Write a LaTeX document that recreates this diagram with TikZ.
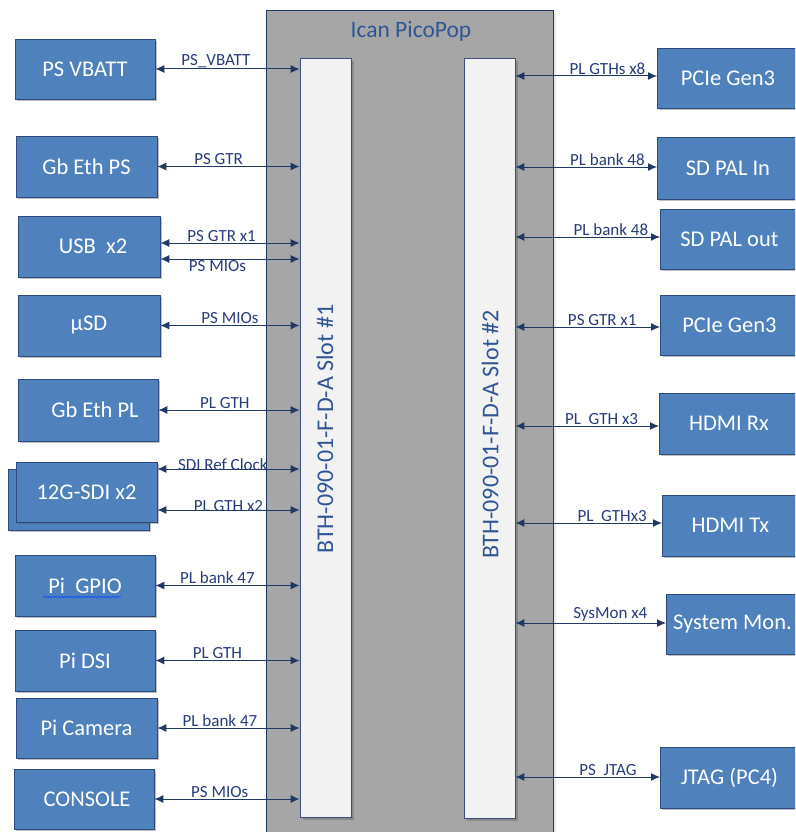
\documentclass[tikz,border=0pt]{standalone}
\usepackage{fontspec}
\setmainfont{Carlito}
\usetikzlibrary{arrows.meta,positioning,shadows,decorations.pathmorphing}

\definecolor{boxblue}{HTML}{4F81BD}
\definecolor{boxline}{HTML}{2C4A7E}
\definecolor{boardgrey}{HTML}{A6A6A6}
\definecolor{slotfill}{HTML}{F2F2F2}
\definecolor{slotline}{HTML}{3A4F7A}
\definecolor{linecol}{HTML}{203864}
\definecolor{lblcol}{HTML}{283C7C}
\definecolor{titlecol}{HTML}{2F5597}

\tikzset{
  blk/.style={draw=boxline, line width=0.8pt, fill=boxblue, text=white,
    font=\fontsize{22.5}{24}\selectfont, inner sep=0pt,
    drop shadow={shadow xshift=2pt, shadow yshift=-2pt, opacity=.35, fill=black!70}},
  slotbox/.style={draw=slotline, line width=0.8pt, fill=slotfill, inner sep=0pt,
    minimum width=51pt, drop shadow={shadow xshift=3pt, shadow yshift=-3pt, opacity=.3, fill=black!70}},
  link/.style={draw=linecol, line width=1pt, {Latex[length=9pt,width=8pt]}-{Latex[length=9pt,width=8pt]}},
  lbl/.style={text=lblcol, font=\fontsize{17}{18}\selectfont, inner sep=1pt},
}

\begin{document}
\begin{tikzpicture}[x=1pt, y=-1pt]
  \clip (0,0) rectangle (795,832);
  \fill[white] (0,0) rectangle (795,832);

  % board and slots
  \node[draw=linecol, line width=0.8pt, fill=boardgrey, inner sep=0pt, minimum width=287pt, minimum height=840pt,
    drop shadow={shadow xshift=3pt, shadow yshift=-3pt, opacity=.15, fill=black!60}] (board) at (409.5,430) {};
  \node[text=titlecol, font=\fontsize{23.5}{25}\selectfont] (title) at (411,31) {Ican PicoPop};
  \node[slotbox, minimum height=759pt] (slotA) at (325.5,437.5) {};
  \node[slotbox, minimum height=760pt] (slotB) at (489.5,438) {};
  \node[text=titlecol, rotate=90, font=\fontsize{24}{26}\selectfont] (slotAlbl) at (325,429) {BTH-090-01-F-D-A Slot \#1};
  \node[text=titlecol, rotate=90, font=\fontsize{24}{26}\selectfont] (slotBlbl) at (490,434.5) {BTH-090-01-F-D-A Slot \#2};

  % left side
  \node[blk, minimum width=140pt, minimum height=60pt] (vbatt) at (85,69) {PS VBATT};
  \node[blk, minimum width=141pt, minimum height=61pt] (ethps) at (86.5,166.5) {Gb Eth PS};
  \node[blk, minimum width=142pt, minimum height=61pt] (usb) at (89,246.5) {\hspace{8pt}USB\ \ x2};
  \node[blk, minimum width=142pt, minimum height=61pt] (usd) at (89,325.5) {µSD};
  \node[blk, minimum width=140pt, minimum height=62pt] (ethpl) at (88,410) {\hspace{14pt}Gb Eth PL};
  \node[blk, minimum width=141pt, minimum height=61pt] (sdiback) at (78.5,499.5) {};
  \node[blk, minimum width=141pt, minimum height=60pt] (sdi) at (86.5,492) {12G-SDI x2};
  \node[blk, minimum width=140pt, minimum height=61pt] (gpio) at (85,585.5) {Pi\ \ GPIO};
  \node[blk, minimum width=140pt, minimum height=61pt] (dsi) at (85,660.5) {Pi DSI};
  \node[blk, minimum width=141pt, minimum height=60pt] (cam) at (86.5,728) {Pi Camera};
  \node[blk, minimum width=140pt, minimum height=60pt] (console) at (84,799) {\hspace{6pt}CONSOLE};
  \draw[blue!70!cyan, line width=0.6pt, decorate, decoration={snake, amplitude=0.7pt, segment length=3pt}]
    (43,597) -- (121,597);

  \foreach \b/\t/\p in {vbatt/PS\_VBATT/.42, ethps/PS GTR/.43, usd/PS MIOs/.50, ethpl/PL GTH/.47,
      gpio/PL bank 47/.43, dsi/PL GTH/.43, cam/PL bank 47/.44, console/PS MIOs/.45}
    \draw[link] (\b.east) -- node[lbl, above, pos=\p] {\t} (\b.east -| slotA.west);

  \coordinate (usbA) at ([yshift=3.5pt]usb.east);
  \coordinate (usbB) at ([yshift=-12.5pt]usb.east);
  \coordinate (sdiA) at ([yshift=23pt]sdi.east);
  \coordinate (sdiB) at ([yshift=-18pt]sdi.east);
  \draw[link] (usbA) -- node[lbl, above, pos=.44] {PS GTR x1} (usbA -| slotA.west);
  \draw[link] (usbB) -- node[lbl, below, pos=.41] {PS MIOs} (usbB -| slotA.west);
  \draw[link] (sdiA) -- node[lbl, above, yshift=-3pt, pos=.46] {SDI Ref Clock} (sdiA -| slotA.west);
  \draw[link] (sdiB) -- node[lbl, above, yshift=-3pt, pos=.50] {PL GTH x2} (sdiB -| slotA.west);

  % right side
  \node[blk, anchor=west, minimum width=141pt, minimum height=60pt] (pcieA) at (657,78) {PCIe Gen3};
  \node[blk, anchor=west, minimum width=141pt, minimum height=62pt] (palin) at (657,168) {SD PAL In};
  \node[blk, anchor=west, minimum width=138pt, minimum height=60pt] (palout) at (660,239) {SD PAL out};
  \node[blk, anchor=west, minimum width=138pt, minimum height=60pt] (pcieB) at (660,325) {PCIe Gen3};
  \node[blk, anchor=west, minimum width=139pt, minimum height=61pt] (hdmirx) at (659,423.5) {HDMI Rx};
  \node[blk, anchor=west, minimum width=136pt, minimum height=61pt] (hdmitx) at (662,525.5) {HDMI Tx};
  \node[blk, anchor=west, minimum width=132pt, minimum height=60pt] (sysmon) at (666,624) {System Mon.};
  \node[blk, anchor=west, minimum width=138pt, minimum height=61pt] (jtag) at (660,777.5) {JTAG (PC4)};

  \foreach \b/\t/\p/\s in {pcieA/PL GTHs x8/.65/2, palin/PL bank 48/.65/1, palout/PL bank 48/.66/2,
      pcieB/PS GTR x1/.60/-2, hdmirx/PL\ \ GTH x3/.60/-2.5, hdmitx/PL\ \ GTHx3/.66/2.5,
      sysmon/SysMon x4/.63/1, jtag/PS\ \ JTAG/.64/0.5} {
    \coordinate (end) at ([yshift=\s pt]\b.west);
    \draw[link] (end -| slotB.east) -- node[lbl, above, pos=\p] {\t} (end);
  }
\end{tikzpicture}
\end{document}
